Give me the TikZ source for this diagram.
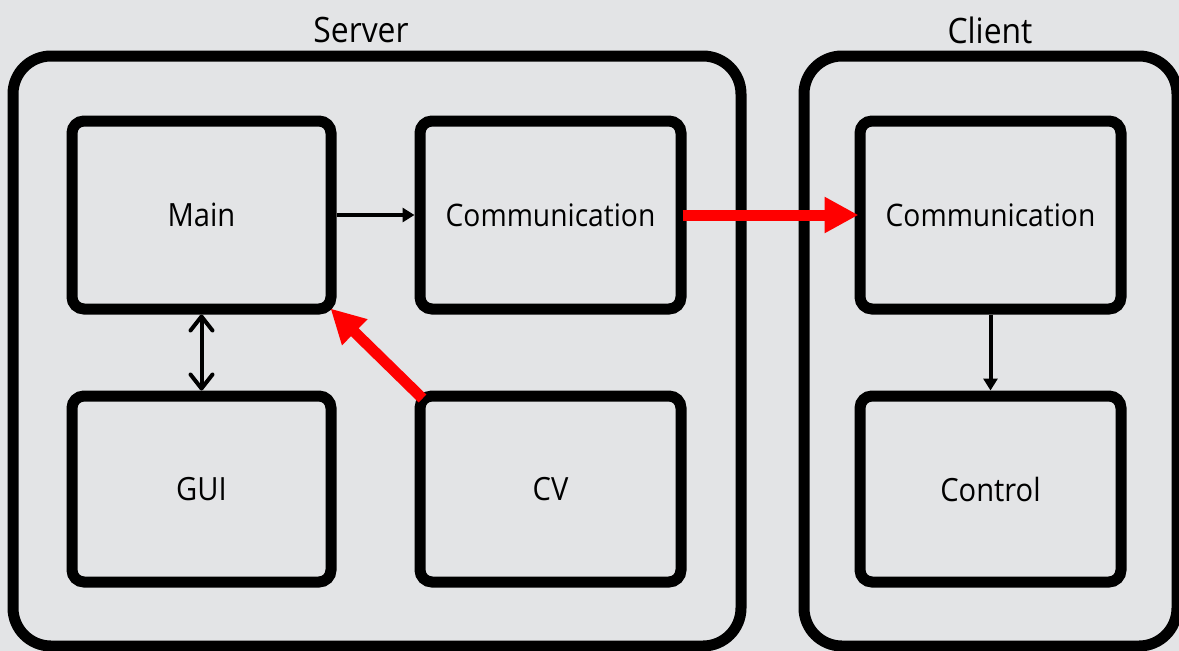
\documentclass[tikz,border=0pt]{standalone}
\usepackage{fontspec}
\setmainfont[FakeStretch=0.91]{Open Sans}
\usetikzlibrary{arrows.meta}
\definecolor{bg}{RGB}{227,228,230}
\definecolor{arrowred}{RGB}{255,0,0}
\tikzset{
  group/.style={draw=black, line width=11pt, rounded corners=38pt, inner sep=0pt},
  module/.style={draw=black, line width=11pt, rounded corners=12pt, inner sep=0pt,
    font=\fontsize{32}{36}\selectfont},
  title/.style={font=\fontsize{35}{40}\selectfont, inner sep=0pt},
  flow/.style={line width=4pt, -{Triangle[length=12pt,width=14pt]}},
  both/.style={line width=4pt, {Straight Barb[length=14pt,width=22pt,line width=4pt,round]}-{Straight Barb[length=14pt,width=22pt,line width=4pt,round]}},
  link/.style={draw=arrowred, line width=11pt, -{Triangle[length=34pt,width=34pt]}}
}
\begin{document}
\begin{tikzpicture}[x=1pt, y=-1pt]
  % canvas
  \fill[bg] (0,0) rectangle (1179,651);
  \useasboundingbox (0,0) rectangle (1179,651);

  % enclosing groups
  \node[group, minimum width=728pt, minimum height=590pt] (server) at (377,351) {};
  \node[group, minimum width=373pt, minimum height=590pt] (client) at (990.5,351) {};
  \node[title] (serverlabel) at (361,30) {Server};
  \node[title] (clientlabel) at (990,30) {Client};

  % server modules
  \node[module, minimum width=259pt, minimum height=188pt] (main) at (201.5,215) {Main};
  \node[module, minimum width=261pt, minimum height=188pt, font=\fontsize{31}{36}\selectfont] (scomm) at (550.5,215) {Communication};
  \node[module, minimum width=259pt, minimum height=186pt] (gui) at (201.5,489) {GUI};
  \node[module, minimum width=261pt, minimum height=186pt] (cv) at (550.5,489) {CV};

  % client modules
  \node[module, minimum width=261pt, minimum height=188pt, font=\fontsize{31}{36}\selectfont] (ccomm) at (990.5,215) {Communication};
  \node[module, minimum width=261pt, minimum height=186pt] (control) at (990.5,489) {Control};

  % connections
  \draw[flow] (main.east) -- (scomm.west);
  \draw[both] (main.south) -- (gui.north);
  \draw[flow] (ccomm.south) -- (control.north);
  \draw[link] ([xshift=-4pt]scomm.east) -- ([xshift=4pt]ccomm.west);
  \draw[link] ([shift={(8,8)}]cv.north west) -- ([shift={(-6,-6)}]main.south east);
\end{tikzpicture}
\end{document}
